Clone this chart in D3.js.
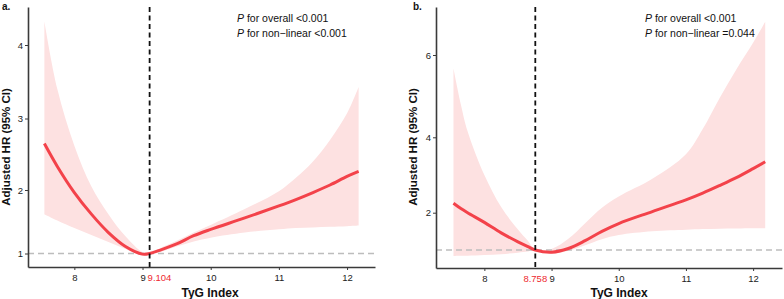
<!DOCTYPE html>
<html>
<head>
<meta charset="utf-8">
<script src="https://cdn.jsdelivr.net/npm/d3@7"></script>
<style>
  html, body { margin: 0; padding: 0; background: #fff; }
  svg { display: block; font-family: "Liberation Sans", Arial, Helvetica, sans-serif; }
</style>
</head>
<body>
<div id="chart"></div>
<script>
// ---- data ----
// panel a
var tygA = [7.56, 7.75, 8.0, 8.25, 8.5, 8.75, 9.0, 9.104, 9.25, 9.5, 9.75, 10.0, 10.5, 11.0, 11.25, 11.5, 11.75, 12.0, 12.17];
var hrA  = [2.65, 2.33, 1.96, 1.62, 1.33, 1.11, 0.99, 1.00, 1.05, 1.15, 1.28, 1.38, 1.56, 1.75, 1.85, 1.96, 2.07, 2.19, 2.26];
var lowA = [1.62, 1.52, 1.40, 1.29, 1.18, 1.07, 0.97, 1.00, 1.02, 1.11, 1.19, 1.25, 1.33, 1.38, 1.40, 1.41, 1.42, 1.43, 1.44];
var upA  = [4.32, 3.40, 2.62, 2.05, 1.62, 1.27, 1.02, 1.00, 1.08, 1.20, 1.33, 1.45, 1.70, 1.98, 2.17, 2.40, 2.70, 3.07, 3.43];

// panel b
var tygB = [7.54, 7.65, 7.75, 8.0, 8.25, 8.5, 8.65, 8.758, 9.0, 9.25, 9.5, 9.75, 10.0, 10.5, 11.0, 11.25, 11.5, 11.75, 12.0, 12.18];
var hrB  = [2.25, 2.11, 2.00, 1.74, 1.46, 1.22, 1.09, 1.00, 0.94, 1.04, 1.25, 1.50, 1.71, 2.03, 2.34, 2.52, 2.72, 2.93, 3.17, 3.35];
var lowB = [0.84, 0.845, 0.85, 0.87, 0.89, 0.93, 0.96, 1.00, 0.90, 0.98, 1.13, 1.29, 1.40, 1.50, 1.54, 1.56, 1.57, 1.575, 1.58, 1.58];
var upB  = [5.67, 4.80, 4.15, 3.00, 2.15, 1.55, 1.24, 1.00, 1.03, 1.30, 1.72, 2.13, 2.43, 2.90, 3.55, 4.20, 4.95, 5.65, 6.30, 6.81];

var xTicks = [8, 9, 10, 11, 12];
var yTicksA = [1, 2, 3, 4];
var yTicksB = [2, 4, 6];
var cutA = 9.104, cutB = 8.758;
var pTextA = ["for overall <0.001", "for non\u2212linear <0.001"];
var pTextB = ["for overall <0.001", "for non\u2212linear =0.044"];

var W = 784, H = 299;
var RED = "#f3424a", PINK = "#fde1e1", AXIS = "#3a3a3a";

var svg = d3.select("#chart").append("svg")
  .attr("width", W).attr("height", H);

function drawPanel(cfg) {
  var g = svg.append("g");

  var x = d3.scaleLinear().domain(cfg.xDomain).range(cfg.xRange);
  // y axis spacing in the figure is not perfectly even, so map through the tick positions
  var y = d3.scaleLinear().domain(cfg.yDomain).range(cfg.yRange);

  var rows = cfg.tyg.map(function (t, i) {
    return { t: t, hr: cfg.hr[i], lo: cfg.low[i], up: cfg.up[i] };
  });

  // CI ribbon
  g.append("path")
    .datum(rows)
    .attr("fill", PINK)
    .attr("d", d3.area()
      .x(function (d) { return x(d.t); })
      .y0(function (d) { return y(d.lo); })
      .y1(function (d) { return y(d.up); })
      .curve(d3.curveCatmullRom.alpha(0.5)));

  // reference line at HR = 1
  g.append("line")
    .attr("x1", x(cfg.xDomain[0])).attr("x2", x(cfg.xDomain[1]))
    .attr("y1", y(1)).attr("y2", y(1))
    .attr("stroke", "#bdbdbd").attr("stroke-width", 1.4)
    .attr("stroke-dasharray", "6,4");

  // HR curve
  g.append("path")
    .datum(rows)
    .attr("fill", "none")
    .attr("stroke", RED)
    .attr("stroke-width", 3)
    .attr("d", d3.line()
      .x(function (d) { return x(d.t); })
      .y(function (d) { return y(d.hr); })
      .curve(d3.curveCatmullRom.alpha(0.5)));

  // cut-off line
  g.append("line")
    .attr("x1", x(cfg.cut)).attr("x2", x(cfg.cut))
    .attr("y1", cfg.yRange[cfg.yRange.length - 1]).attr("y2", cfg.yRange[0])
    .attr("stroke", "#111").attr("stroke-width", 1.8)
    .attr("stroke-dasharray", "5,3.5");

  // axes
  var xAxis = g.append("g")
    .attr("transform", "translate(0," + cfg.yRange[0] + ")")
    .call(d3.axisBottom(x).tickValues(xTicks).tickFormat(d3.format("d"))
      .tickSize(3).tickSizeOuter(0).tickPadding(4));

  var yAxis = g.append("g")
    .attr("transform", "translate(" + cfg.xRange[0] + ",0)")
    .call(d3.axisLeft(y).tickValues(cfg.yTicks).tickFormat(d3.format("d"))
      .tickSize(3).tickSizeOuter(0).tickPadding(2));

  [xAxis, yAxis].forEach(function (a) {
    a.select(".domain").attr("stroke", AXIS).attr("stroke-width", 1.6);
    a.selectAll(".tick line").attr("stroke", AXIS).attr("stroke-width", 1);
    a.selectAll(".tick text").attr("fill", "#222").style("font-size", "9.5px");
  });

  // red cut-off label
  g.append("text")
    .attr("x", x(cfg.cut) + cfg.cutShift)
    .attr("y", cfg.yRange[0] + 13.7)
    .attr("text-anchor", cfg.cutAnchor)
    .attr("fill", "#ee2a2f")
    .style("font-size", "9.5px")
    .text(cfg.cut);

  // axis titles
  g.append("text")
    .attr("x", cfg.xTitleX).attr("y", 297)
    .attr("text-anchor", "middle")
    .attr("fill", "#111")
    .style("font-size", "12px").style("font-weight", "bold")
    .text("TyG Index");

  g.append("text")
    .attr("transform", "translate(" + cfg.yTitleX + ",147) rotate(-90)")
    .attr("text-anchor", "middle")
    .attr("fill", "#111")
    .style("font-size", "11.5px").style("font-weight", "bold")
    .text("Adjusted HR (95% CI)");

  // panel letter
  g.append("text")
    .attr("x", cfg.letterX).attr("y", 10)
    .attr("fill", "#111")
    .style("font-size", "10px").style("font-weight", "bold")
    .text(cfg.letter);

  // P values
  cfg.pText.forEach(function (s, i) {
    var t = g.append("text")
      .attr("x", cfg.pX).attr("y", 22 + i * 14.5)
      .attr("fill", "#111")
      .style("font-size", "10.5px");
    t.append("tspan").style("font-style", "italic").text("P");
    t.append("tspan").text(" " + s);
  });
}

drawPanel({
  tyg: tygA, hr: hrA, low: lowA, up: upA,
  xDomain: [7.32, 12.41], xRange: [28, 375],
  yDomain: [0.79, 1, 2, 3, 4, 4.52], yRange: [267, 253.5, 190, 118.5, 45, 7],
  yTicks: yTicksA, cut: cutA, cutShift: -2, cutAnchor: "start",
  xTitleX: 210, yTitleX: 9.5, letter: "a.", letterX: 2,
  pText: pTextA, pX: 237
});

drawPanel({
  tyg: tygB, hr: hrB, low: lowB, up: upB,
  xDomain: [7.28, 12.43], xRange: [436, 782],
  yDomain: [0.52, 1, 2, 4, 6, 7.17], yRange: [268, 250, 212.7, 137.3, 55, 7],
  yTicks: yTicksB, cut: cutB, cutShift: 0, cutAnchor: "middle",
  xTitleX: 619, yTitleX: 416.5, letter: "b.", letterX: 413,
  pText: pTextB, pX: 645
});
</script>
</body>
</html>
